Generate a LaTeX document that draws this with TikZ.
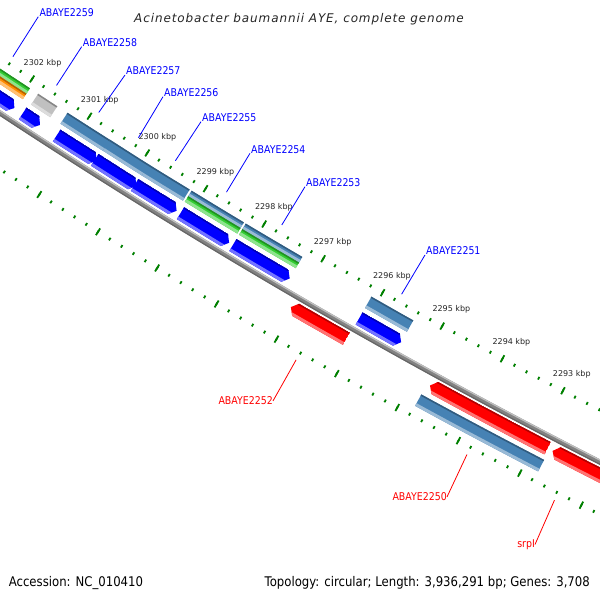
\documentclass[tikz,border=0pt]{standalone}
\usepackage{fontspec}
\setmainfont{DejaVu Sans}
\newfontfamily\lblfont[FakeStretch=0.88]{DejaVu Sans}
\newfontfamily\ttlfont[LetterSpace=7.5]{DejaVu Sans}
\usetikzlibrary{positioning}

\definecolor{cdsblue}{RGB}{0,0,255}
\definecolor{cdsred}{RGB}{255,0,0}
\definecolor{cogsteel}{RGB}{70,130,180}
\definecolor{coggreen}{RGB}{50,205,50}
\definecolor{cogorange}{RGB}{255,140,0}
\definecolor{coggray}{RGB}{192,192,192}
\definecolor{tickgreen}{RGB}{0,128,0}
\definecolor{bbgray}{RGB}{130,130,130}

% ring segment: start angle, end angle, inner radius, outer radius, colour
\newcommand{\arcbar}[5]{%
  \fill[#5] (#1:#3) arc[start angle=#1, end angle=#2, radius=#3] -- (#2:#4) arc[start angle=#2, end angle=#1, radius=#4] -- cycle;}

% shaded bar (light outer edge, dark inner edge)
\newcommand{\featbar}[5]{%
  \pgfmathsetmacro\fbLight{#4-3}\pgfmathsetmacro\fbDark{#3+1.5}%
  \arcbar{#1}{#2}{#3}{#4}{#5}%
  \arcbar{#1}{#2}{\fbLight}{#4}{#5!55!white}%
  \arcbar{#1}{#2}{#3}{\fbDark}{#5!70!black}}

% shaded arrow: tail angle, tip angle, inner radius, outer radius, colour
\newcommand{\featarrow}[5]{%
  \pgfmathsetmacro\faHead{#2-0.05*sign(#2-#1)}\pgfmathsetmacro\faMid{(#3+#4)/2}%
  \begin{scope}
    \clip (#1:#3) arc[start angle=#1, end angle=\faHead, radius=#3] -- (#2:\faMid) -- (\faHead:#4) arc[start angle=\faHead, end angle=#1, radius=#4] -- cycle;
    \featbar{#1}{#2}{#3}{#4}{#5}
  \end{scope}}

\begin{document}
\begin{tikzpicture}[x=1pt, y=1pt,
    backbone/.style={bbgray, line width=5pt},
    minortick/.style={tickgreen, line width=1.8pt},
    majortick/.style={tickgreen, line width=1.8pt},
    ticklbl/.style={font=\fontsize{8}{9}\selectfont, text=black!85, inner sep=0pt},
    fwdlbl/.style={font=\lblfont\fontsize{10.7}{12}\selectfont, text=cdsblue, inner sep=1pt, anchor=base west},
    revlbl/.style={font=\lblfont\fontsize{10.7}{12}\selectfont, text=cdsred, inner sep=0pt, anchor=north east},
    fwdline/.style={cdsblue, line width=0.8pt},
    revline/.style={cdsred, line width=0.8pt},
    infolbl/.style={font=\lblfont\fontsize{13.3}{15}\selectfont, text=black, inner sep=0pt}
  ]
  \useasboundingbox (0,0) rectangle (600,600);
  \fill[white] (0,0) rectangle (600,600);
  \begin{scope}
  \clip (0,0) rectangle (600,600);

  % map centre far outside the page
  \begin{scope}[shift={(3463,5752)}]
    % backbone
    \draw[backbone] (235.5:6302) arc[start angle=235.5, end angle=244, radius=6302];
    \draw[black!25, line width=1.3pt] (235.5:6300.2) arc[start angle=235.5, end angle=244, radius=6300.2];
    \draw[black!60, line width=1.2pt] (235.5:6304) arc[start angle=235.5, end angle=244, radius=6304];

    % forward CDS
    \featarrow{236.10}{236.75}{6283}{6297}{cdsblue}
    \featarrow{236.84}{237.03}{6283}{6297}{cdsblue}
    \featarrow{237.21}{237.64}{6283}{6297}{cdsblue}
    \featarrow{237.62}{238.07}{6283}{6297}{cdsblue}
    \featarrow{238.05}{238.50}{6283}{6297}{cdsblue}
    \featarrow{238.54}{239.06}{6283}{6297}{cdsblue}
    \featarrow{239.10}{239.70}{6283}{6297}{cdsblue}
    \featarrow{240.43}{240.87}{6283}{6297}{cdsblue}

    % reverse CDS
    \featarrow{240.42}{239.84}{6307}{6321}{cdsred}
    \featarrow{242.50}{241.29}{6307}{6321}{cdsred}
    \featarrow{243.30}{242.55}{6307}{6321}{cdsred}

    % COG categories
    \featbar{236.10}{236.77}{6265}{6271.5}{coggreen}
    \featbar{236.10}{236.77}{6271.5}{6278}{cogorange}
    \featbar{236.86}{237.07}{6265}{6278}{coggray}
    \featbar{237.18}{237.645}{6265}{6278}{cogsteel}
    \featbar{237.64}{238.065}{6265}{6278}{cogsteel}
    \featbar{238.06}{238.50}{6265}{6278}{cogsteel}
    \featbar{238.52}{239.08}{6265}{6271.5}{cogsteel}
    \featbar{238.52}{239.08}{6271.5}{6278}{coggreen}
    \featbar{239.10}{239.70}{6265}{6271.5}{cogsteel}
    \featbar{239.10}{239.70}{6271.5}{6278}{coggreen}
    \featbar{240.43}{240.87}{6265}{6278}{cogsteel}
    \featbar{241.26}{242.52}{6326}{6339}{cogsteel}

    % ruler, 200 bp steps
    \foreach \i in {0,...,65}{
      \pgfmathsetmacro\ta{236.74+0.6267*(11-0.2*\i)}
      \draw[minortick] (\ta:6254.5) -- (\ta:6257.5);
      \draw[minortick] (\ta:6347.5) -- (\ta:6350.5);
    }
    \foreach \k in {2291,...,2304}{
      \pgfmathsetmacro\ta{236.74+0.6267*(2302-\k)}
      \draw[majortick] (\ta:6252) -- (\ta:6260);
      \draw[majortick] (\ta:6345) -- (\ta:6353);
    }
    \foreach \k in {2293,...,2302}{
      \pgfmathsetmacro\ta{236.74+0.6267*(2302-\k)}
      \node[ticklbl] (kbp\k) at (\ta:6237) {\k\ kbp};
    }

    % label line ends on the genes
    \coordinate (g2259) at (236.48:6248);
    \coordinate (g2258) at (236.96:6248);
    \coordinate (g2257) at (237.42:6248);
    \coordinate (g2256) at (237.85:6248);
    \coordinate (g2255) at (238.25:6248);
    \coordinate (g2254) at (238.80:6248);
    \coordinate (g2253) at (239.39:6248);
    \coordinate (g2251) at (240.66:6248);
    \coordinate (g2252) at (240.12:6357);
    \coordinate (g2250) at (241.88:6357);
    \coordinate (gsrpI) at (242.77:6357);
  \end{scope}

  % gene labels
  \node[fwdlbl] (lbl2259) at (38.3,583.3) {ABAYE2259};
  \node[fwdlbl] (lbl2258) at (81.7,553.3) {ABAYE2258};
  \node[fwdlbl] (lbl2257) at (125,525) {ABAYE2257};
  \node[fwdlbl] (lbl2256) at (163,503.3) {ABAYE2256};
  \node[fwdlbl] (lbl2255) at (201,478.3) {ABAYE2255};
  \node[fwdlbl] (lbl2254) at (250,446.7) {ABAYE2254};
  \node[fwdlbl] (lbl2253) at (305,413.3) {ABAYE2253};
  \node[fwdlbl] (lbl2251) at (425,345) {ABAYE2251};
  \node[revlbl] (lbl2252) at (273,203.3) {ABAYE2252};
  \node[revlbl] (lbl2250) at (447,107.3) {ABAYE2250};
  \node[revlbl] (lblsrpI) at (535,60.7) {srpI};

  \draw[fwdline] (g2259) -- (lbl2259.base west);
  \draw[fwdline] (g2258) -- (lbl2258.base west);
  \draw[fwdline] (g2257) -- (lbl2257.base west);
  \draw[fwdline] (g2256) -- (lbl2256.base west);
  \draw[fwdline] (g2255) -- (lbl2255.base west);
  \draw[fwdline] (g2254) -- (lbl2254.base west);
  \draw[fwdline] (g2253) -- (lbl2253.base west);
  \draw[fwdline] (g2251) -- (lbl2251.base west);
  \draw[revline] (g2252) -- (lbl2252.east);
  \draw[revline] (g2250) -- (lbl2250.east);
  \draw[revline] (gsrpI) -- (lblsrpI.east);

  % title and footer
  \node[font=\ttlfont\itshape\fontsize{12}{14}\selectfont, text=black!85, inner sep=0pt, anchor=base] (title) at (299,577.5) {Acinetobacter baumannii AYE, complete genome};
  \node[infolbl, anchor=base west] (accession) at (8.6,13) {Accession: NC\_010410};
  \node[infolbl, anchor=base east] (topology) at (590,13) {Topology: circular; Length: 3,936,291 bp; Genes: 3,708};
  \end{scope}
\end{tikzpicture}
\end{document}
